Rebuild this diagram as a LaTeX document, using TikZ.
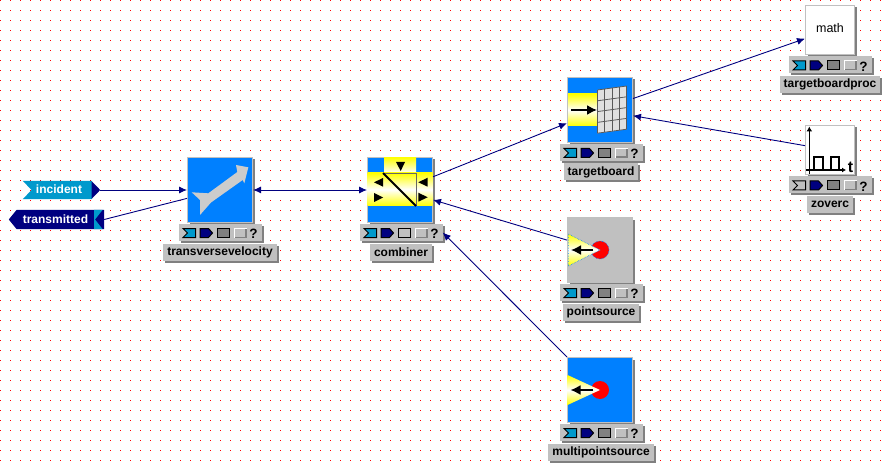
\documentclass[tikz,border=0pt]{standalone}
\usepackage{fontspec}
\setmainfont{Liberation Sans}
\usepackage{tikz}
\usetikzlibrary{arrows.meta, shadows}
\definecolor{actorBlue}{HTML}{0080FF}
\definecolor{actorGrey}{HTML}{C0C0C0}
\definecolor{arrowGrey}{HTML}{CCCCCC}
\definecolor{shadowGrey}{HTML}{808080}
\definecolor{paleGrey}{HTML}{E0E0E0}
\definecolor{wireBlue}{HTML}{000080}
\definecolor{portTeal}{HTML}{0099CC}
\definecolor{gridRed}{HTML}{FF0000}

\begin{document}
\begin{tikzpicture}[x=1pt, y=-1pt,
  actorbox/.style={draw=actorGrey, line width=1pt, minimum size=65pt, inner sep=0pt, general shadow={fill=shadowGrey, shadow xshift=2pt, shadow yshift=-2pt}},
  smallbox/.style={actorbox, minimum size=49pt, fill=white},
  toolbar/.style={fill=actorGrey, minimum width=83pt, minimum height=17pt, inner sep=0pt, general shadow={fill=shadowGrey, shadow xshift=2pt, shadow yshift=-2pt}},
  actorlabel/.style={fill=actorGrey, inner xsep=4pt, inner ysep=0pt, minimum height=17pt, font=\fontsize{12}{14}\bfseries\selectfont, general shadow={fill=shadowGrey, shadow xshift=2pt, shadow yshift=-2pt}},
  wire/.style={wireBlue, line width=0.9pt, -{Latex[length=8pt,width=7pt]}},
  portlabel/.style={text=white, inner sep=0pt, font=\fontsize{12}{14}\bfseries\selectfont},
  blackarrow/.style={line width=1.6pt, -{Latex[length=10pt,width=10pt]}},
  baricon/.style={draw=black, line width=1pt}]
  \useasboundingbox (0,0) rectangle (890,470);
  \fill[white] (0,0) rectangle (890,470);
  % dotted canvas
  \foreach \i in {0,...,88}
    \foreach \j in {0,...,46}
      \fill[gridRed] (10*\i,10*\j) rectangle ++(1,1);

  % actors
  \node[actorbox, fill=actorBlue] (transversevelocity) at (220,190) {};
  \node[actorbox, fill=actorBlue] (combiner) at (400,190) {};
  \node[actorbox, fill=actorBlue] (targetboard) at (600,110) {};
  \node[actorbox, fill=actorGrey] (pointsource) at (600,250) {};
  \node[actorbox, fill=actorBlue] (multipointsource) at (600,390) {};
  \node[smallbox] (targetboardproc) at (830,30) {};
  \node[smallbox] (zoverc) at (830,150) {};

  % toolbars and names
  \foreach \name/\x/\y/\first/\third/\ylab in {transversevelocity/220/232.5/portTeal/shadowGrey/252, combiner/401/232.5/portTeal/actorGrey/252, targetboard/601/152.5/portTeal/shadowGrey/172, pointsource/601/292.5/portTeal/shadowGrey/312, multipointsource/601/432.5/portTeal/shadowGrey/452, targetboardproc/830/65/portTeal/shadowGrey/84.5, zoverc/830/185/actorGrey/shadowGrey/204.5} {
    \node[toolbar] (\name bar) at (\x,\y) {};
    \node[actorlabel] (\name label) at (\x,\ylab) {\name};
    \begin{scope}[shift={(\x-41.5,\y-8.5)}]
      \draw[baricon, fill=\first] (4.5,4.5) -- (17,4.5) -- (17,13.5) -- (4.5,13.5) -- (9,9) -- cycle;
      \draw[baricon, fill=wireBlue] (21.5,4.5) -- (30,4.5) -- (34,9) -- (30,13.5) -- (21.5,13.5) -- cycle;
      \draw[baricon, fill=\third] (38.5,4.5) rectangle (51,13.5);
      \fill[white] (55,4) rectangle (68,14);
      \fill[shadowGrey] (56,5) rectangle (68,14);
      \fill[actorGrey] (56,5) rectangle (66.5,12.5);
      \node[inner sep=0pt, font=\fontsize{13.5}{14}\bfseries\selectfont] (\name help) at (75,10) {?};
    \end{scope}
  }

  % ports
  \node[minimum width=77pt, minimum height=18pt, inner sep=0pt] (incident) at (61.5,190) {};
  \fill[portTeal] (incident.north west) -- (92,181) -- (92,199) -- (incident.south west) -- (31.5,190) -- cycle;
  \fill[wireBlue] (91.5,181) -- (incident.east) -- (91.5,199) -- cycle;
  \node[portlabel] at (59,189.5) {incident};
  \node[minimum width=95pt, minimum height=19pt, inner sep=0pt] (transmitted) at (56.5,219.5) {};
  \fill[wireBlue] (transmitted.west) -- (16.5,210) -- (104,210) -- (104,229) -- (16.5,229) -- cycle;
  \fill[portTeal] (94,210) -- (102.5,210) -- (95,219.5) -- (102.5,229) -- (94,229) -- cycle;
  \node[portlabel] at (55.5,219) {transmitted};

  % icons
  \fill[arrowGrey] (248.3,167.3) -- (236,165) -- (237.3,172) -- (208.3,193.3) -- (191.7,192.3) -- (200,200) -- (200,215) -- (211,202.5) -- (242.7,180) -- (244.3,183.3) -- cycle;

  \shade[top color=yellow, bottom color=white] (384,157.5) rectangle (416,173);
  \shade[top color=yellow, bottom color=yellow, middle color=white] (367.5,173) rectangle (432.5,206);
  \draw[black!60, line width=0.7pt] (383,173) -- (416,173) -- (416,206);
  \draw[line width=2pt] (383,173) -- (416,206);
  \fill (396,162) -- (405,162) -- (400.7,171) -- cycle;
  \fill (374,182.3) -- (383,178) -- (383,186.7) -- cycle;
  \fill (374,193) -- (383,197.5) -- (374,202) -- cycle;
  \fill (418.3,182.3) -- (427.7,177.7) -- (427.7,186.7) -- cycle;
  \fill (418.3,192.7) -- (427.7,197.3) -- (418.3,201.7) -- cycle;

  \shade[top color=yellow, bottom color=yellow, middle color=white] (568,94) rectangle (597.3,126);
  \draw[blackarrow] (571,110) -- (597,110);
  \fill[paleGrey] (597.3,90) -- (626.7,86) -- (626.7,129.3) -- (597.3,133.3) -- cycle;
  \foreach \c in {0,...,4}
    \draw[black!65, line width=0.8pt] (597.3+7.35*\c,90-\c) -- (597.3+7.35*\c,133.3-\c);
  \foreach \r in {0,...,4}
    \draw[black!65, line width=0.8pt] (597.3,90+10.8*\r) -- (626.7,86+10.8*\r);

  \node[inner sep=0pt, font=\fontsize{12.5}{14}\selectfont] (mathtext) at (830,28.5) {math};

  \draw[line width=1.3pt, -{Latex[length=5pt,width=6pt]}] (809.3,174) -- (809.3,126.5);
  \draw[line width=1.3pt, -{Latex[length=4pt,width=5pt]}] (806,170) -- (846,170);
  \draw[line width=2pt] (809.3,170) -- (814.3,170) -- (814.3,157.5) -- (822.7,157.5) -- (822.7,170) -- (831,170) -- (831,157.5) -- (839.3,157.5) -- (839.3,170);
  \node[inner sep=0pt, font=\fontsize{16}{16}\bfseries\selectfont] (ztext) at (850.5,167) {t};

  \fill[red, draw=actorBlue, line width=0.6pt, densely dotted] (600,250) circle (9pt);
  \shade[top color=yellow, bottom color=yellow, middle color=white] (568.3,234) -- (600,250) -- (568.3,266) -- cycle;
  \draw[actorBlue, line width=0.6pt, densely dotted] (568.3,234) -- (600,250) -- (568.3,266) -- cycle;
  \draw[blackarrow] (593.3,250) -- (571,250);

  \fill[red] (600,390) circle (9pt);
  \shade[top color=yellow, bottom color=yellow, middle color=white] (567.5,375) -- (600,390) -- (567.5,405) -- cycle;
  \draw[blackarrow] (593.3,390) -- (570.5,390);

  % connectors
  \draw[wire] (incident.east) -- (transversevelocity);
  \draw[wireBlue, line width=0.9pt] (transversevelocity) -- (transmitted.east);
  \draw[wire, {Latex[length=8pt,width=7pt]}-{Latex[length=8pt,width=7pt]}] (transversevelocity) -- (combiner);
  \draw[wire] (combiner) -- (targetboard);
  \draw[wire] (pointsource) -- (combiner);
  \draw[wire] (multipointsource) -- (combinerbar.east);
  \draw[wire] (targetboard) -- (targetboardproc);
  \draw[wire] (zoverc) -- (targetboard);
\end{tikzpicture}
\end{document}
